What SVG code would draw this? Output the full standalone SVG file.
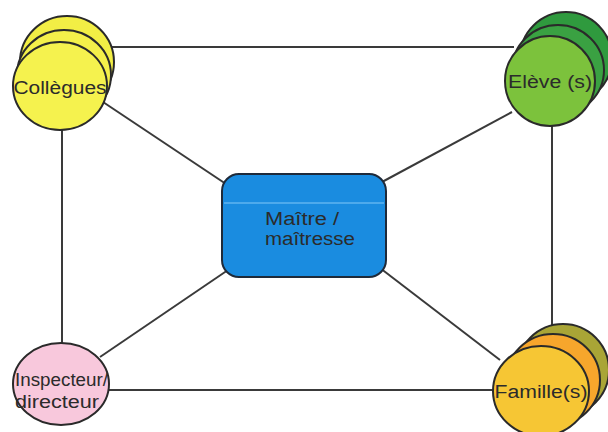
<svg xmlns="http://www.w3.org/2000/svg" width="608" height="432" viewBox="0 0 608 432">
<style>
.bg{fill:#ffffff}
.c{stroke:#2a2a2a;stroke-width:2}
.ln{stroke:#3a3a3a;stroke-width:2;fill:none}
.t{font-family:"Liberation Sans",Arial,sans-serif;fill:#2b2b2b;font-size:18px}
</style>
<rect class="bg" x="0" y="0" width="608" height="432"/>
<g id="connectors">
<line class="ln" x1="112" y1="47" x2="514" y2="47"/>
<line class="ln" x1="62" y1="128" x2="62" y2="346"/>
<line class="ln" x1="552" y1="124" x2="552" y2="328"/>
<line class="ln" x1="108" y1="390" x2="494" y2="390"/>
<line class="ln" x1="103" y1="102" x2="226" y2="184"/>
<line class="ln" x1="512" y1="112" x2="382" y2="182"/>
<line class="ln" x1="100" y1="357" x2="228" y2="270"/>
<line class="ln" x1="500" y1="360" x2="380" y2="268"/>
</g>
<g id="maitre">
<rect x="222" y="174" width="164" height="103" rx="17" fill="#1a8ce0" stroke="#1e2a3a" stroke-width="2"/>
<line x1="224" y1="203" x2="384" y2="203" stroke="#5fb4f0" stroke-width="1.5"/>
<text class="t" x="265" y="225" textLength="74" lengthAdjust="spacingAndGlyphs" font-size="16">Maître /</text>
<text class="t" x="265" y="245" textLength="90" lengthAdjust="spacingAndGlyphs" font-size="16">maîtresse</text>
</g>
<g id="collegues">
<ellipse class="c" cx="67" cy="62" rx="47" ry="46" fill="#f2ee45"/>
<ellipse class="c" cx="64" cy="75" rx="47" ry="45" fill="#f4f04a"/>
<ellipse class="c" cx="60" cy="86" rx="47" ry="44" fill="#f5f24e"/>
<text class="t" x="60" y="94" text-anchor="middle" textLength="93" lengthAdjust="spacingAndGlyphs">Collègues</text>
</g>
<g id="eleve">
<ellipse class="c" cx="566" cy="58" rx="46" ry="46" fill="#2f9a3e"/>
<ellipse class="c" cx="558" cy="70" rx="46" ry="45" fill="#3aa142"/>
<ellipse class="c" cx="550" cy="81" rx="45" ry="45" fill="#7cc23c"/>
<text class="t" x="550" y="88" text-anchor="middle" textLength="84" lengthAdjust="spacingAndGlyphs">Elève (s)</text>
</g>
<g id="inspecteur">
<ellipse class="c" cx="61" cy="384" rx="48" ry="41" fill="#f8c8dc"/>
<text class="t" x="15" y="386" textLength="93" lengthAdjust="spacingAndGlyphs">Inspecteur/</text>
<text class="t" x="15" y="408" textLength="84" lengthAdjust="spacingAndGlyphs">directeur</text>
</g>
<g id="famille">
<ellipse class="c" cx="563" cy="370" rx="46" ry="46" fill="#a9a536"/>
<ellipse class="c" cx="553" cy="380" rx="47" ry="46" fill="#f7a62c"/>
<ellipse class="c" cx="541" cy="391" rx="48" ry="45" fill="#f6c634"/>
<text class="t" x="541" y="398" text-anchor="middle" textLength="93" lengthAdjust="spacingAndGlyphs">Famille(s)</text>
</g>
</svg>
